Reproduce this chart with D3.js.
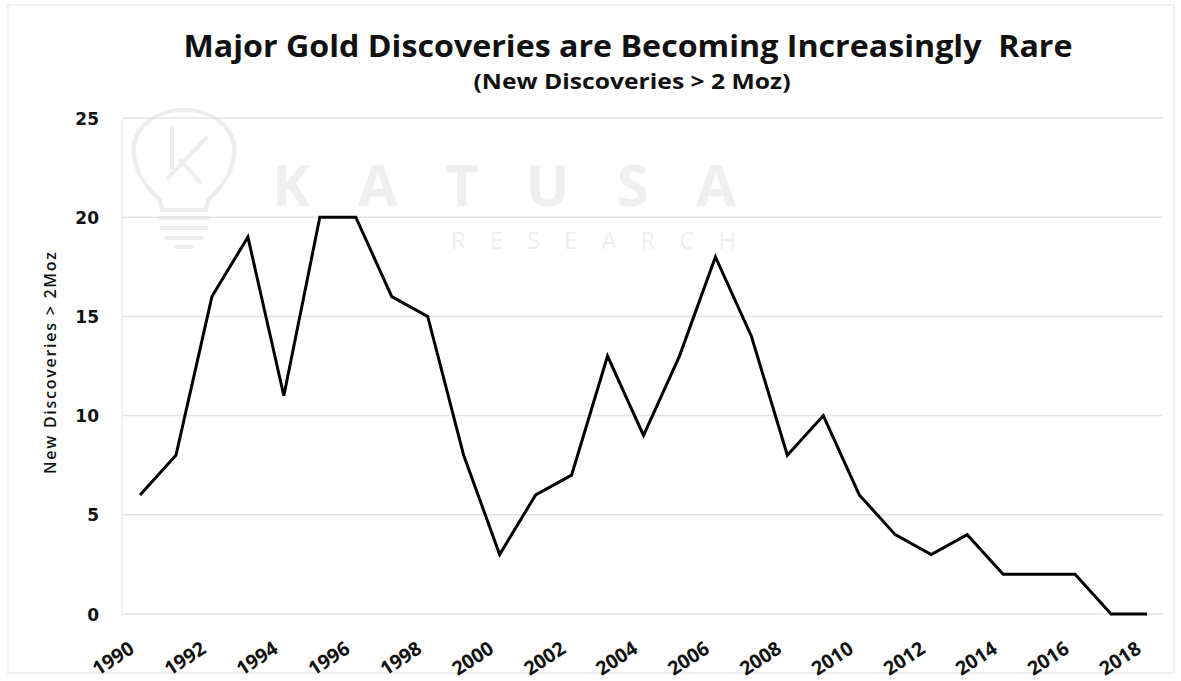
<!DOCTYPE html>
<html>
<head>
<meta charset="utf-8">
<script src="https://cdn.jsdelivr.net/npm/d3@7"></script>
<style>
  body { margin: 0; background: #fff; }
  svg { display: block; }
  .x-label { font-family: "Open Sans", sans-serif; font-weight: 700; font-size: 19.5px; fill: #111; }
  .y-label { font-family: "DejaVu Sans", sans-serif; font-weight: 700; font-size: 17px; fill: #111; }
</style>
</head>
<body>
<svg width="1181" height="681"></svg>
<script>
var years = [1990, 1991, 1992, 1993, 1994, 1995, 1996, 1997, 1998, 1999,
             2000, 2001, 2002, 2003, 2004, 2005, 2006, 2007, 2008, 2009,
             2010, 2011, 2012, 2013, 2014, 2015, 2016, 2017, 2018];
var discoveries = [6, 8, 16, 19, 11, 20, 20, 16, 15, 8,
                   3, 6, 7, 13, 9, 13, 18, 14, 8, 10,
                   6, 4, 3, 4, 2, 2, 2, 0, 0];
var yTicks = [0, 5, 10, 15, 20, 25];
var xTicks = d3.range(1990, 2019, 2);

var svg = d3.select('svg');
var plotLeft = 122, plotRight = 1163;

var x = d3.scaleLinear().domain([1990, 2018]).range([140, 1147]);
var y = d3.scaleLinear().domain([0, 25]).range([614, 118]);

// faint outer frame
svg.append('rect')
    .attr('x', 8).attr('y', 5).attr('width', 1166).attr('height', 668)
    .attr('fill', 'none').attr('stroke', '#f0f0f0').attr('stroke-width', 2);

// watermark (Katusa Research)
var wm = svg.append('g').attr('fill', 'none').attr('stroke', '#ededed').attr('stroke-width', 4)
    .attr('stroke-linecap', 'round');
wm.append('path')
    .attr('d', 'M160,200 C136,180 128,152 138,133 C148,117 166,110 184,110 C202,110 220,117 230,133 C240,152 232,180 208,200 L206,210 L162,210 Z');
wm.append('path').attr('d', 'M160,218 L208,218 M162,228 L206,228 M166,238 L202,238 M176,247 L192,247');
wm.append('path').attr('d', 'M172,128 L172,168 M168,178 L206,138 M180,160 L200,182');
svg.append('text')
    .attr('x', 272).attr('y', 206)
    .attr('font-family', 'Open Sans, sans-serif').attr('font-weight', 700)
    .attr('font-size', 58)
    .attr('textLength', 464)
    .attr('fill', '#efefef')
    .text('KATUSA');
svg.append('text')
    .attr('x', 451).attr('y', 249)
    .attr('font-family', 'Open Sans, sans-serif').attr('font-weight', 400)
    .attr('font-size', 24)
    .attr('textLength', 285)
    .attr('fill', '#efefef')
    .text('RESEARCH');

// gridlines
svg.append('g')
    .selectAll('line')
    .data(yTicks)
    .enter().append('line')
    .attr('x1', plotLeft).attr('x2', plotRight)
    .attr('y1', function(d) { return y(d); })
    .attr('y2', function(d) { return y(d); })
    .attr('stroke', '#e4e4e4').attr('stroke-width', 1.5);

svg.append('line')
    .attr('x1', plotLeft).attr('x2', plotLeft)
    .attr('y1', y(25)).attr('y2', y(0))
    .attr('stroke', '#eeeeee').attr('stroke-width', 1.5);

// y axis
var yAxis = d3.axisLeft(y).tickValues(yTicks).tickSize(0).tickPadding(0);
var gy = svg.append('g').attr('transform', 'translate(99,0)').call(yAxis);
gy.select('.domain').remove();
gy.selectAll('text').attr('class', 'y-label').attr('dy', '0.36em');

// x axis
var xAxis = d3.axisBottom(x).tickValues(xTicks).tickSize(0).tickFormat(d3.format('d'));
var gx = svg.append('g').attr('transform', 'translate(0,' + y(0) + ')').call(xAxis);
gx.select('.domain').remove();
gx.selectAll('text')
    .attr('class', 'x-label')
    .attr('text-anchor', 'end')
    .attr('dy', null)
    .attr('y', 0)
    .attr('transform', 'translate(-5,38) rotate(-33)');

// y axis title
svg.append('text')
    .attr('transform', 'translate(56,363) rotate(-90)')
    .attr('text-anchor', 'middle')
    .attr('font-family', 'Open Sans, sans-serif')
    .attr('font-weight', 600)
    .attr('font-size', 16)
    .attr('textLength', 222)
    .attr('fill', '#111')
    .text('New Discoveries > 2Moz');

// title
svg.append('text')
    .attr('x', 628).attr('y', 57)
    .attr('text-anchor', 'middle')
    .attr('font-family', 'Open Sans, sans-serif').attr('font-weight', 700)
    .attr('font-size', 31)
    .attr('textLength', 889)
    .attr('lengthAdjust', 'spacingAndGlyphs')
    .attr('fill', '#111')
    .text('Major Gold Discoveries are Becoming Increasingly\u00a0 Rare');
svg.append('text')
    .attr('x', 632).attr('y', 89)
    .attr('text-anchor', 'middle')
    .attr('font-family', 'Open Sans, sans-serif').attr('font-weight', 700)
    .attr('font-size', 21)
    .attr('textLength', 317)
    .attr('lengthAdjust', 'spacingAndGlyphs')
    .attr('fill', '#111')
    .text('(New Discoveries > 2 Moz)');

// line
var line = d3.line()
    .x(function(d, i) { return x(years[i]); })
    .y(function(d) { return y(d); });

svg.append('path')
    .datum(discoveries)
    .attr('d', line)
    .attr('fill', 'none')
    .attr('stroke', '#000')
    .attr('stroke-width', 3)
    .attr('stroke-linejoin', 'miter');
</script>
</body>
</html>
